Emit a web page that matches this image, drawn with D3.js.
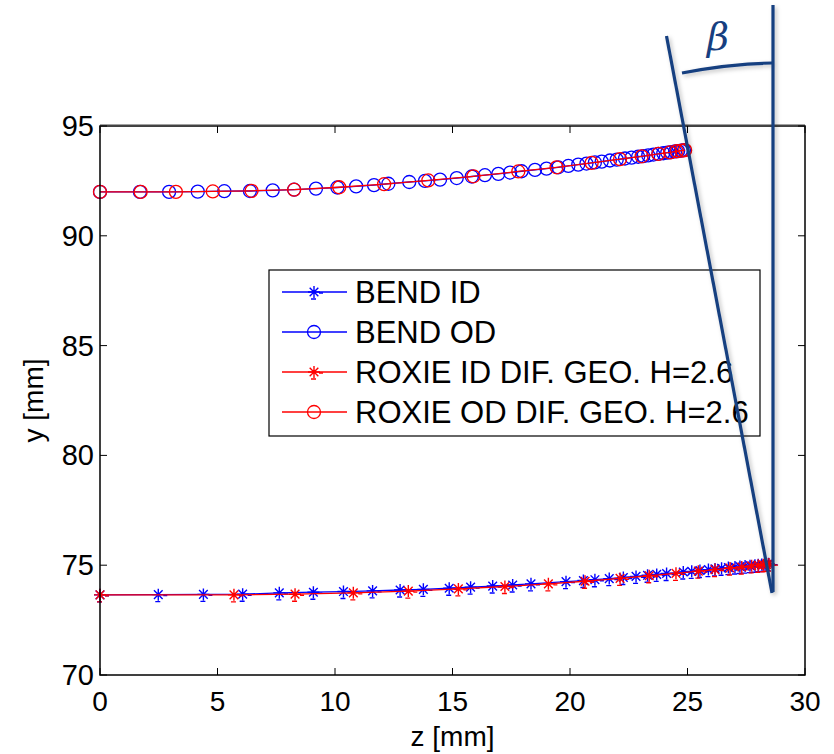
<!DOCTYPE html>
<html>
<head>
<meta charset="utf-8">
<script src="https://cdn.jsdelivr.net/npm/d3@7"></script>
<style>
  body { margin: 0; background: #fff; }
  svg { display: block; font-family: "Liberation Sans", Arial, sans-serif; }
</style>
</head>
<body>
<svg id="chart" width="834" height="754"></svg>
<script>
// BEND OD (blue circles)
const bendOdZ = [0, 1.70, 2.94, 4.16, 5.29, 6.38, 7.35, 8.26, 9.19, 10.1, 10.9, 11.66, 12.27, 13.16, 13.83, 14.47,
  15.18, 15.82, 16.38, 16.95, 17.45, 17.94, 18.51, 19.0, 19.5, 19.93, 20.35, 20.7, 21.06, 21.35, 21.7, 21.99,
  22.34, 22.62, 22.9, 23.12, 23.33, 23.55, 23.76, 23.97, 24.14, 24.3, 24.47, 24.6, 24.72, 24.85];
const bendOdY = [92.0, 92.0, 92.0, 92.01, 92.03, 92.04, 92.07, 92.1, 92.15, 92.2, 92.25, 92.31, 92.37, 92.45, 92.5, 92.56,
  92.63, 92.7, 92.76, 92.82, 92.88, 92.94, 93.0, 93.06, 93.12, 93.18, 93.24, 93.29, 93.34, 93.38, 93.43, 93.47,
  93.52, 93.56, 93.6, 93.63, 93.66, 93.7, 93.73, 93.76, 93.79, 93.81, 93.84, 93.86, 93.88, 93.9];

// ROXIE OD (red circles)
const roxieOdZ = [0, 1.73, 3.23, 4.8, 6.45, 8.26, 10.18, 12.09, 13.97, 15.89, 17.8, 19.43, 20.92, 22.13, 23.05, 23.76,
  24.26, 24.54, 24.76, 24.9];
const roxieOdY = [92.0, 92.0, 92.0, 92.02, 92.05, 92.1, 92.21, 92.35, 92.52, 92.71, 92.93, 93.12, 93.32, 93.49, 93.62, 93.73,
  93.8, 93.85, 93.88, 93.9];

// BEND ID (blue stars)
const bendIdZ = [0, 2.48, 4.4, 6.07, 7.63, 9.08, 10.36, 11.6, 12.77, 13.76, 14.86, 15.77, 16.71, 17.56, 18.34, 19.83,
  20.57, 21.06, 21.67, 22.27, 22.81, 23.3, 23.69, 24.11, 24.82, 25.18, 25.53, 25.89, 26.17, 26.45, 26.74, 27.02,
  27.23, 27.45, 27.66, 27.87, 28.01, 28.16, 28.3, 28.45];
const bendIdY = [73.65, 73.66, 73.67, 73.68, 73.74, 73.77, 73.8, 73.83, 73.87, 73.9, 73.95, 74.0, 74.05, 74.1, 74.15, 74.25,
  74.3, 74.34, 74.39, 74.44, 74.49, 74.54, 74.58, 74.62, 74.69, 74.72, 74.76, 74.8, 74.83, 74.86, 74.89, 74.92,
  74.94, 74.96, 74.98, 75.0, 75.02, 75.03, 75.05, 75.07];

// ROXIE ID (red stars)
const roxieIdZ = [0, 5.70, 8.30, 10.78, 13.12, 15.25, 17.23, 19.08, 20.64, 22.13, 23.37, 24.51, 25.46, 26.17, 26.81, 27.31,
  27.73, 28.01, 28.23, 28.37, 28.47];
const roxieIdY = [73.65, 73.65, 73.68, 73.74, 73.82, 73.92, 74.03, 74.15, 74.27, 74.4, 74.52, 74.63, 74.73, 74.8, 74.87, 74.92,
  74.97, 75.0, 75.02, 75.04, 75.05];

const xTicks = [0, 5, 10, 15, 20, 25, 30];
const yTicks = [70, 75, 80, 85, 90, 95];
const legendLabels = ["BEND ID", "BEND OD", "ROXIE ID DIF. GEO. H=2.6", "ROXIE OD DIF. GEO. H=2.6"];

const series = [
  { z: bendIdZ, y: bendIdY, color: "#0000ff", marker: "star" },
  { z: bendOdZ, y: bendOdY, color: "#0000ff", marker: "circle" },
  { z: roxieIdZ, y: roxieIdY, color: "#ff0000", marker: "star" },
  { z: roxieOdZ, y: roxieOdY, color: "#ff0000", marker: "circle" }
];

const svg = d3.select("#chart");
const pLeft = 100, pRight = 805, pTop = 126, pBottom = 675;

const x = d3.scaleLinear().domain([0, 30]).range([pLeft, pRight]);
const y = d3.scaleLinear().domain([70, 95]).range([pBottom, pTop]);

// soft shadow for the hand-drawn annotation
const flt = svg.append("defs").append("filter").attr("id", "shadow")
  .attr("x", "-20%").attr("y", "-5%").attr("width", "140%").attr("height", "110%");
flt.append("feDropShadow").attr("dx", 2).attr("dy", 2).attr("stdDeviation", 2)
  .attr("flood-color", "#000").attr("flood-opacity", 0.25);

function drawMarker(g, type, cx, cy, color) {
  if (type === "circle") {
    g.append("circle").attr("cx", cx).attr("cy", cy).attr("r", 6.5)
      .attr("fill", "none").attr("stroke", color).attr("stroke-width", 1.3);
  } else {
    const r = 6, d = r * 0.72;
    const p = `M${cx},${cy - r}L${cx},${cy + r}M${cx - r},${cy}L${cx + r},${cy}` +
      `M${cx - d},${cy - d}L${cx + d},${cy + d}M${cx - d},${cy + d}L${cx + d},${cy - d}` +
      `M${cx + 5},${cy + 1}L${cx + 9},${cy + 1}M${cx - 3},${cy + 7}L${cx + 2},${cy + 7}`;
    g.append("path").attr("d", p).attr("stroke", color).attr("stroke-width", 1.4).attr("fill", "none");
  }
}

// series
const line = d3.line().x(d => x(d[0])).y(d => y(d[1]));
series.forEach(s => {
  const pts = s.z.map((z, i) => [z, s.y[i]]);
  const g = svg.append("g");
  g.append("path").attr("d", line(pts)).attr("fill", "none")
    .attr("stroke", s.color).attr("stroke-width", 1.3);
  pts.forEach(p => drawMarker(g, s.marker, x(p[0]), y(p[1]), s.color));
});

// axes box and inward ticks
const axG = svg.append("g");
axG.append("rect").attr("x", pLeft).attr("y", pTop).attr("width", pRight - pLeft).attr("height", pBottom - pTop)
  .attr("fill", "none").attr("stroke", "#000").attr("stroke-width", 1.5);
axG.append("line").attr("x1", pLeft).attr("x2", pRight).attr("y1", pTop - 0.5).attr("y2", pTop - 0.5)
  .attr("stroke", "#444").attr("stroke-width", 2);

const tl = 7;
xTicks.forEach(t => {
  axG.append("line").attr("x1", x(t)).attr("x2", x(t)).attr("y1", pBottom).attr("y2", pBottom - tl).attr("stroke", "#000");
  axG.append("line").attr("x1", x(t)).attr("x2", x(t)).attr("y1", pTop).attr("y2", pTop + tl).attr("stroke", "#000");
  axG.append("text").attr("x", x(t)).attr("y", pBottom + 36).attr("text-anchor", "middle")
    .attr("font-size", 28).text(t);
});
yTicks.forEach(t => {
  axG.append("line").attr("x1", pLeft).attr("x2", pLeft + tl).attr("y1", y(t)).attr("y2", y(t)).attr("stroke", "#000");
  axG.append("line").attr("x1", pRight).attr("x2", pRight - tl).attr("y1", y(t)).attr("y2", y(t)).attr("stroke", "#000");
  axG.append("text").attr("x", pLeft - 6).attr("y", y(t) + 10).attr("text-anchor", "end")
    .attr("font-size", 29).text(t);
});

axG.append("text").attr("x", (pLeft + pRight) / 2).attr("y", 746).attr("text-anchor", "middle")
  .attr("font-size", 28).text("z [mm]");
axG.append("text").attr("transform", `translate(43,${(pTop + pBottom) / 2}) rotate(-90)`)
  .attr("text-anchor", "middle").attr("font-size", 28).text("y [mm]");

// legend
const leg = svg.append("g");
leg.append("rect").attr("x", 269).attr("y", 270).attr("width", 491).attr("height", 166)
  .attr("fill", "#fff").attr("stroke", "#000").attr("stroke-width", 1.2);
series.forEach((s, i) => {
  const ly = 292 + i * 40;
  leg.append("line").attr("x1", 282).attr("x2", 347).attr("y1", ly).attr("y2", ly)
    .attr("stroke", s.color).attr("stroke-width", 1.3);
  drawMarker(leg, s.marker, 314, ly, s.color);
  leg.append("text").attr("x", 355).attr("y", ly + 11).attr("font-size", 31).text(legendLabels[i]);
});

// beta annotation
const navy = "#173f80";
const ann = svg.append("g").attr("stroke", navy).attr("stroke-width", 3.2).attr("fill", "none")
  .attr("stroke-linecap", "butt").attr("filter", "url(#shadow)");
ann.append("line").attr("x1", 666.5).attr("y1", 36).attr("x2", 772).attr("y2", 593);
ann.append("line").attr("x1", 773).attr("y1", 5).attr("x2", 773).attr("y2", 592);
ann.append("path").attr("d", "M682,73 Q728,64 772,63");
svg.append("text").attr("x", 718).attr("y", 50).attr("text-anchor", "middle")
  .attr("font-family", "DejaVu Serif, serif").attr("font-style", "italic")
  .attr("font-size", 38).attr("fill", navy).text("β");
</script>
</body>
</html>
